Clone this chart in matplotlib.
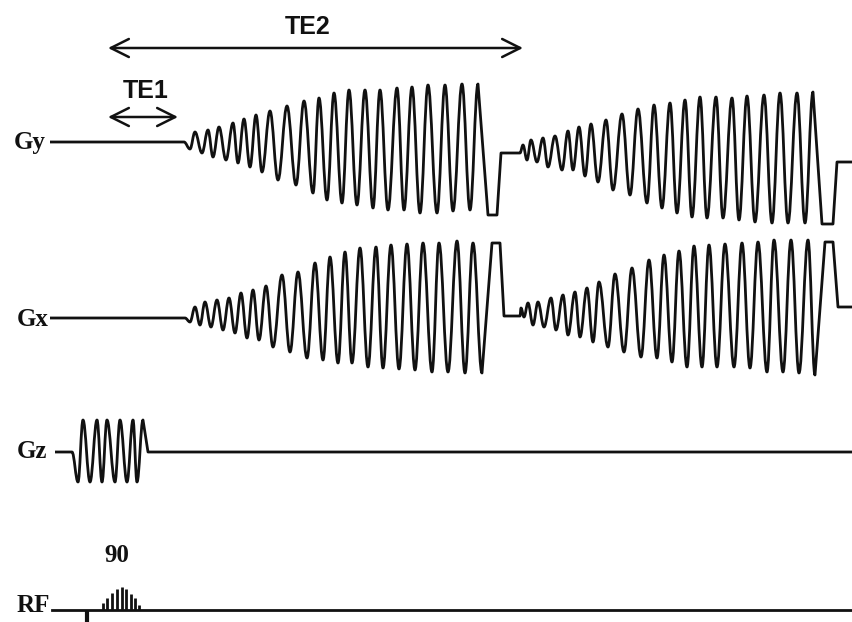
import matplotlib
matplotlib.use('Agg')

import matplotlib.pyplot as plt
from matplotlib.path import Path
from matplotlib.patches import PathPatch

# 各通道波形: 极值点的时间(横向)和幅度(相对基线, 向上为正)
gy1_t = [190, 195, 202, 208, 213, 219, 226, 233, 238, 244, 250, 256, 262, 270, 278, 287, 296, 304, 313, 319,
         327, 334, 342, 349, 357, 365, 373, 380, 388, 397, 404, 412, 420, 428, 437, 445, 453, 462, 470, 478]
gy1_a = [-7, 10, -11, 12, -15, 15, -18, 19, -21, 23, -25, 27, -30, 31, -38, 36, -43, 41, -51, 44,
         -58, 49, -61, 52, -63, 52, -66, 52, -68, 54, -68, 55, -71, 57, -71, 57, -69, 58, -68, 58]
gy2_t = [523, 527, 531, 537, 543, 548, 555, 562, 568, 573, 579, 585, 591, 598, 606, 613, 622, 630, 638, 647,
         654, 662, 670, 677, 685, 692, 700, 707, 716, 723, 732, 739, 747, 755, 764, 772, 780, 788, 797, 805, 813]
gy2_a = [-3, -18, 2, -20, 4, -25, 6, -28, 11, -28, 15, -34, 18, -40, 22, -48, 28, -53, 33, -61,
         37, -66, 39, -71, 42, -75, 45, -76, 45, -76, 44, -78, 46, -80, 47, -81, 49, -81, 49, -81, 50]

gx1_t = [190, 195, 200, 205, 211, 217, 223, 229, 235, 241, 247, 253, 259, 266, 273, 282, 290, 298, 307, 315,
         323, 330, 338, 345, 352, 360, 368, 376, 383, 391, 399, 407, 415, 423, 432, 439, 448, 457, 465, 473, 482]
gx1_a = [-4, 11, -7, 16, -9, 18, -12, 20, -15, 25, -20, 28, -22, 32, -29, 43, -34, 46, -40, 55,
         -42, 61, -45, 66, -45, 70, -49, 71, -50, 73, -51, 74, -52, 75, -54, 75, -54, 77, -55, 75, -55]
gx2_t = [521, 524, 528, 533, 538, 544, 551, 556, 563, 568, 575, 580, 587, 593, 599, 608, 615, 624, 632, 641,
         649, 657, 664, 672, 679, 687, 694, 702, 709, 717, 725, 734, 742, 750, 758, 767, 774, 783, 791, 799, 808, 815]
gx2_a = [10, 1, 15, -7, 16, -9, 20, -12, 23, -17, 26, -19, 30, -24, 36, -29, 44, -34, 50, -39,
         58, -40, 63, -44, 67, -49, 72, -49, 73, -49, 74, -49, 75, -50, 76, -54, 78, -54, 78, -55, 78, -57]

gz_t = [78, 83, 90, 97, 102, 107, 115, 120, 127, 133, 137, 143]
gz_a = [-30, 32, -30, 32, -30, 32, -30, 32, -30, 32, -30, 32]

# 平台/斜坡段 (时间, 幅度)
gy_in = [(50, 0), (184, 0)]
gy_mid = [(488, -73), (497, -73), (501, -11), (520, -11)]
gy_out = [(822, -82), (833, -82), (837, -20), (853, -20)]
gx_in = [(50, 0), (185, 0)]
gx_mid = [(492, 75), (500, 75), (504, 2), (520, 2)]
gx_out = [(825, 76), (833, 76), (838, 11), (853, 11)]
gz_in = [(55, 0), (72, 0)]
gz_out = [(148, 0), (853, 0)]

# RF 90度脉冲的条纹
rf_t = [103, 107, 112, 117, 122, 126, 131, 135, 139]
rf_h = [7, 12, 17, 21, 23, 21, 16, 12, 5]

BASE = {'Gy': 142, 'Gx': 318, 'Gz': 452, 'RF': 610}
INK = '#111111'


def build_path(base, pieces):
    """pieces: ('line', [(t,a),...]) 或 ('osc', t_list, a_list)"""
    verts, codes = [], []
    for p in pieces:
        if p[0] == 'line':
            for t, a in p[1]:
                verts.append((t, base - a))
                codes.append(Path.MOVETO if not codes else Path.LINETO)
        else:
            for t, a in zip(p[1], p[2]):
                x0, y0 = verts[-1]
                x1, y1 = t, base - a
                k = 0.38 * (x1 - x0)
                verts += [(x0 + k, y0), (x1 - k, y1), (x1, y1)]
                codes += [Path.CURVE4] * 3
    return Path(verts, codes)


fig = plt.figure(figsize=(8.53, 6.22), dpi=100)
ax = fig.add_axes([0, 0, 1, 1])
ax.set_xlim(0, 853)
ax.set_ylim(622, 0)
ax.axis('off')

waves = [
    ('Gy', [('line', gy_in), ('osc', gy1_t, gy1_a), ('line', gy_mid), ('osc', gy2_t, gy2_a), ('line', gy_out)]),
    ('Gx', [('line', gx_in), ('osc', gx1_t, gx1_a), ('line', gx_mid), ('osc', gx2_t, gx2_a), ('line', gx_out)]),
    ('Gz', [('line', gz_in), ('osc', gz_t, gz_a), ('line', gz_out)]),
]
for name, pieces in waves:
    ax.add_patch(PathPatch(build_path(BASE[name], pieces), fill=False, lw=2.0, ec=INK, joinstyle='round'))

# RF
rf0 = BASE['RF']
ax.plot([52, 853], [rf0, rf0], color=INK, lw=2.0)
ax.vlines(rf_t, rf0, [rf0 - h for h in rf_h], color=INK, lw=2.0)
ax.vlines([87], rf0, rf0 + 14, color=INK, lw=3)

serif = dict(family='Liberation Serif', weight='bold', fontsize=18, color=INK)
ax.text(46, BASE['Gy'] + 1, 'Gy', ha='right', va='center', **serif)
ax.text(49, BASE['Gx'] + 1, 'Gx', ha='right', va='center', **serif)
ax.text(47, BASE['Gz'], 'Gz', ha='right', va='center', **serif)
ax.text(50, BASE['RF'] - 5, 'RF', ha='right', va='center', **serif)
ax.text(117, 555, '90', ha='center', va='center', **serif)

sans = dict(family='Liberation Sans', weight='bold', fontsize=18, color=INK)
ax.text(308, 27, 'TE2', ha='center', va='center', **sans)
ax.text(146, 91, 'TE1', ha='center', va='center', **sans)

arrow = dict(arrowstyle='<->,head_length=1.3,head_width=0.65', lw=1.8, color=INK,
             shrinkA=0, shrinkB=0, mutation_scale=10)
ax.annotate('', xy=(523, 48), xytext=(108, 48), arrowprops=arrow)
ax.annotate('', xy=(178, 117), xytext=(108, 117), arrowprops=arrow)

fig.savefig('out.png', dpi=100, facecolor='white')
